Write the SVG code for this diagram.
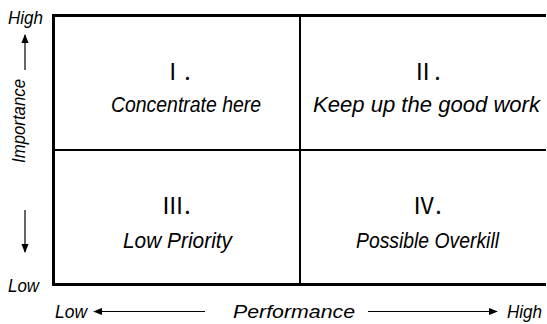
<svg xmlns="http://www.w3.org/2000/svg" width="547" height="324" viewBox="0 0 547 324">
  <style>
    .lbl { font-family: "Liberation Sans", Arial, sans-serif; font-style: italic; fill: #000; }
    .quad { font-size: 22px; text-anchor: middle; }
    .num { font-family: "Noto Sans CJK KR", "Liberation Sans", sans-serif; font-size: 23px; font-weight: 400; text-anchor: middle; fill: #000; }
    .axis { font-size: 19px; }
    .frame { stroke: #000; stroke-width: 3; fill: none; }
    .divider { stroke: #000; stroke-width: 2; fill: none; }
    .arrow { stroke: #000; stroke-width: 1.2; fill: none; marker-end: url(#head); }
  </style>
  <defs>
    <marker id="head" viewBox="0 0 10 10" refX="9" refY="5" markerWidth="9" markerHeight="9" markerUnits="userSpaceOnUse" orient="auto">
      <path d="M0,1 L10,5 L0,9 Z" fill="#000"/>
    </marker>
  </defs>
  <rect width="547" height="324" fill="#fff"/>

  <!-- quadrant frame: open on the right -->
  <g id="frame">
    <path class="frame" d="M546,15.5 H53.5 V284.5 H546"/>
    <path class="divider" d="M300,15.5 V284.5 M53.5,150 H546"/>
  </g>

  <g id="quadrant-1">
    <text class="num" x="176" y="80">Ⅰ.</text>
    <text class="lbl quad" x="186" y="112" textLength="150" lengthAdjust="spacingAndGlyphs">Concentrate here</text>
  </g>
  <g id="quadrant-2">
    <text class="num" x="426" y="80">Ⅱ.</text>
    <text class="lbl quad" x="426.5" y="112" textLength="227" lengthAdjust="spacingAndGlyphs">Keep up the good work</text>
  </g>
  <g id="quadrant-3">
    <text class="num" x="176" y="214">Ⅲ.</text>
    <text class="lbl quad" x="177.5" y="248" textLength="109" lengthAdjust="spacingAndGlyphs">Low Priority</text>
  </g>
  <g id="quadrant-4">
    <text class="num" x="427" y="214">Ⅳ.</text>
    <text class="lbl quad" x="427.5" y="248" textLength="143" lengthAdjust="spacingAndGlyphs">Possible Overkill</text>
  </g>

  <!-- axis labels -->
  <g id="y-axis">
    <text class="lbl axis" x="8" y="24" textLength="35" lengthAdjust="spacingAndGlyphs">High</text>
    <text class="lbl axis" x="8" y="292" textLength="31" lengthAdjust="spacingAndGlyphs">Low</text>
    <text class="lbl axis" transform="translate(25,121) rotate(-90)" text-anchor="middle" textLength="84" lengthAdjust="spacingAndGlyphs">Importance</text>
  </g>
  <g id="x-axis">
    <text class="lbl axis" x="55" y="318" textLength="32" lengthAdjust="spacingAndGlyphs">Low</text>
    <text class="lbl axis" x="294" y="318" text-anchor="middle" textLength="122" lengthAdjust="spacingAndGlyphs">Performance</text>
    <text class="lbl axis" x="507" y="318" textLength="35" lengthAdjust="spacingAndGlyphs">High</text>
  </g>

  <g id="connectors">
    <line class="arrow" x1="25" y1="70" x2="25" y2="35"/>
    <line class="arrow" x1="25" y1="210" x2="25" y2="252"/>
    <line class="arrow" x1="205" y1="311.5" x2="94" y2="311.5"/>
    <line class="arrow" x1="368" y1="311.5" x2="497" y2="311.5"/>
  </g>
</svg>
